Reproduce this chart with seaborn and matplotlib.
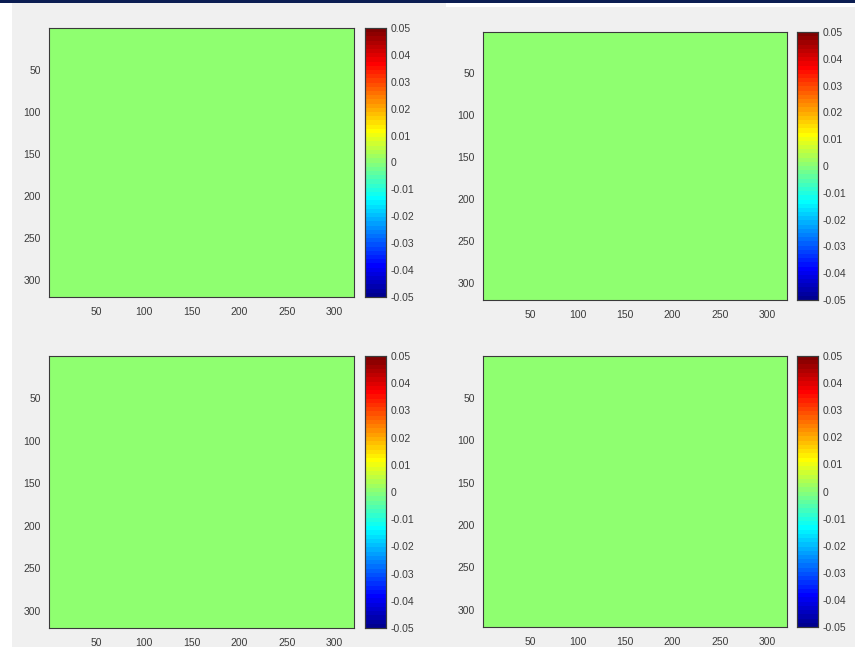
import numpy as np
import matplotlib
matplotlib.use("Agg")
import matplotlib.pyplot as plt
from matplotlib.patches import Rectangle
from matplotlib.colors import ListedColormap
import seaborn as sns

# Four 320x320 fields, all identically zero
grid_size = 320
field_names = ["top_left", "top_right", "bottom_left", "bottom_right"]
field_level = [0.0, 0.0, 0.0, 0.0]

axis_ticks = [50, 100, 150, 200, 250, 300]
axis_tick_labels = ["50", "100", "150", "200", "250", "300"]
color_limits = [-0.05, 0.05]
cbar_ticks = [-0.05, -0.04, -0.03, -0.02, -0.01, 0.0, 0.01, 0.02, 0.03, 0.04, 0.05]
cbar_tick_labels = ["-0.05", "-0.04", "-0.03", "-0.02", "-0.01", "0",
                    "0.01", "0.02", "0.03", "0.04", "0.05"]

W, H = 855, 647
sns.set_style("white")
plt.rcParams["font.family"] = ["Liberation Sans", "DejaVu Sans"]


def classic_jet(n=64):
    """Piecewise-linear jet as defined in the classic 64-entry table."""
    m = int(np.ceil(n / 4))
    u = np.concatenate([np.arange(1, m + 1) / m, np.ones(m - 1),
                        np.arange(m, 0, -1) / m])
    g = int(np.ceil(m / 2)) - (1 if n % 4 == 1 else 0) + np.arange(1, len(u) + 1)
    r = g + m
    b = g - m
    J = np.zeros((n, 3))
    ok = r <= n
    J[r[ok] - 1, 0] = u[ok]
    ok = (g >= 1) & (g <= n)
    J[g[ok] - 1, 1] = u[ok]
    ok = b >= 1
    J[b[ok] - 1, 2] = u[ok]
    return ListedColormap(J, name="jet64")


fig = plt.figure(figsize=(W / 100, H / 100), dpi=100)
fig.patch.set_facecolor("white")


def px_box(x0, y0, x1, y1):
    return [x0 / W, 1 - y1 / H, (x1 - x0) / W, (y1 - y0) / H]


def add_bg(x0, y0, x1, y1, color):
    l, b, w, h = px_box(x0, y0, x1, y1)
    fig.add_artist(Rectangle((l, b), w, h, transform=fig.transFigure,
                             facecolor=color, edgecolor="none", zorder=-10))


# window backgrounds
add_bg(12, 3, W, H, "#f0f0f0")
add_bg(446, 3, W, 7, "white")
add_bg(0, 0, W, 3, "#0b1d52")

# (axes box, colorbar box) in pixels
layout = [
    ((49, 28, 354, 297), (365, 28, 386, 297)),
    ((483, 32, 787, 300), (797, 32, 818, 300)),
    ((49, 356, 354, 628), (365, 356, 386, 628)),
    ((483, 356, 787, 627), (797, 356, 818, 627)),
]

cmap = classic_jet(64)
edge = "#3a3a3a"
text_c = "#3c3c3c"

for name, level, (abox, cbox) in zip(field_names, field_level, layout):
    data = np.full((grid_size, grid_size), level)
    ax = fig.add_axes(px_box(*abox))
    cax = fig.add_axes(px_box(*cbox))
    sns.heatmap(data, ax=ax, cbar_ax=cax, cmap=cmap,
                vmin=color_limits[0], vmax=color_limits[1],
                xticklabels=False, yticklabels=False, rasterized=True)
    for s in ax.spines.values():
        s.set_visible(True)
        s.set_color(edge)
        s.set_linewidth(0.8)
    ax.set_xticks([t - 0.5 for t in axis_ticks])
    ax.set_xticklabels(axis_tick_labels)
    ax.set_yticks([t - 0.5 for t in axis_ticks])
    ax.set_yticklabels(axis_tick_labels, rotation=0)
    ax.tick_params(direction="in", length=3, width=0.6, color=edge,
                   top=True, right=True, bottom=True, left=True,
                   labelsize=7.5, labelcolor=text_c, pad=6)
    ax.tick_params(axis="x", pad=7)

    cax.set_yticks(cbar_ticks)
    cax.set_yticklabels(cbar_tick_labels)
    cax.tick_params(direction="in", length=2, width=0.5, color=edge,
                    labelsize=7.5, labelcolor=text_c, pad=3)
    for s in cax.spines.values():
        s.set_visible(True)
        s.set_color(edge)
        s.set_linewidth(0.8)

fig.savefig("out.png", dpi=100)
